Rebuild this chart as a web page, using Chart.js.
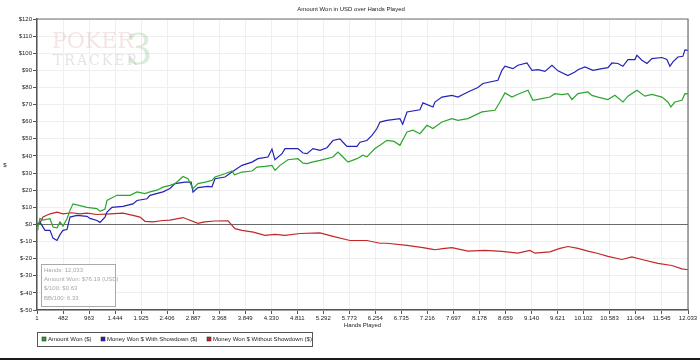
<!DOCTYPE html>
<html>
<head>
<meta charset="utf-8">
<script src="https://cdn.jsdelivr.net/npm/chart.js@4.4.0/dist/chart.umd.min.js"></script>
<style>
  html, body { margin: 0; padding: 0; background: #fff; }
</style>
</head>
<body>
<canvas id="myChart" width="700" height="360"></canvas>
<script>
// x axis tick labels (hands played)
var handTicks = [1, 482, 963, 1444, 1925, 2406, 2887, 3368, 3849, 4330, 4811, 5292, 5773,
  6254, 6735, 7216, 7697, 8178, 8659, 9140, 9621, 10102, 10583, 11064, 11545, 12033];

// Amount Won ($)
var wonHands = [1,19,56,112,241,297,371,426,481,555,611,666,796,925,1110,1165,1258,1295,1350,1479,
  1720,1849,1997,2089,2219,2329,2459,2551,2699,2791,2884,2976,3106,3235,3290,3475,3605,3650,3789,3974,
  4067,4214,4344,4399,4492,4639,4824,4917,4991,5102,5231,5360,5471,5563,5656,5748,5915,6026,6099,6247,
  6340,6469,6600,6709,6839,6950,7079,7208,7319,7356,7485,7670,7781,7966,8224,8465,8557,8650,8779,8890,
  9075,9167,9334,9481,9574,9700,9814,9888,9999,10183,10257,10368,10553,10682,10830,10923,11089,11237,11366,11551,
  11662,11717,11791,11921,11976,12033];
var wonValues = [0,-1.5,3.5,2.5,3.3,-1.5,-2,1.4,-1,3.3,8.2,12,11,10,9.2,7.6,9,14,15,17,
  17,19,18,19,20,21.8,22.8,23.8,28,26.7,20.9,23.8,24.7,25.7,27.7,29.6,31.2,29,30.6,31.2,
  33.5,33.9,34.5,31.6,34.5,37.8,38.4,35.8,35.5,36.5,37.4,38.4,39.4,42.3,39.4,36.4,38.4,40.4,39.5,44.3,
  46.2,49.1,48.5,46.2,54,55,53,57.9,56,56.9,59.8,61.8,60.8,61.8,65.7,66.7,71.5,76.8,74.4,76,
  78.4,72.5,73.5,74.4,76.4,75.8,76.4,73,76.4,77.4,75.4,74.4,72.9,75.4,71.5,74.9,78.4,74.9,76,74.4,
  71.5,68.6,71.5,72.5,76.4,76.2];

// Money Won $ With Showdown ($)
var sdHands = [1,56,149,241,297,371,426,481,555,611,740,925,980,1110,1165,1258,1295,1387,1590,1775,
  1849,2034,2089,2329,2459,2551,2736,2850,2884,2976,3161,3235,3290,3475,3605,3789,3974,4085,4270,4344,
  4399,4529,4584,4824,4917,4991,5102,5231,5360,5471,5600,5656,5730,5915,5970,6099,6192,6284,6340,6469,
  6709,6760,6839,7079,7134,7319,7356,7485,7670,7781,7966,8150,8243,8520,8594,8650,8797,8890,9056,9149,
  9260,9389,9519,9629,9814,9943,9999,10128,10276,10442,10553,10627,10738,10830,10923,11052,11089,11181,11274,11366,
  11551,11643,11699,11754,11847,11939,11976,12033];
var sdValues = [0,1.3,-3.5,-3.5,-8,-9.4,-6,-3.5,-3,4.3,5.3,4.7,3.5,2.3,1.2,4.3,7.2,10,10.5,12,
  14,15,17,19,21,23.8,24.7,24.7,18.9,21.5,22.2,22,26.7,27.7,30.6,34.5,36.4,38.4,39.4,44,
  37.8,41.3,44.3,44.3,41.7,41.3,44.3,43.3,44.8,49,50,48,45.6,45.6,48,49,52,56,59.8,60.8,
  61.8,58.5,65.7,67,71,68.6,71.5,74.4,75.4,74.4,77.4,80,82.3,84.2,90,92.4,91,93,94.3,90,
  90.4,89.4,93,89.7,87,89,90.4,92,90,91,91.6,94.3,94,92.4,96.3,96.3,98.8,95.9,94,96.9,
  97.5,96.3,92.4,95,97.8,98.2,102,101.7];

// Money Won $ Without Showdown ($)
var nsdHands = [1,56,112,241,371,481,640,796,925,1110,1350,1590,1775,1904,1997,2145,2329,2459,2699,2976,
  3100,3290,3531,3660,3789,4000,4214,4400,4584,4861,5231,5471,5785,6099,6340,6469,6839,7134,7319,7356,
  7500,7670,7966,8280,8594,8890,9112,9204,9481,9666,9814,9999,10183,10368,10553,10812,10997,11181,11477,11736,
  11921,12033];
var nsdValues = [0,1,4.3,6.2,7.2,6.2,6.8,6.2,6.6,5.8,6.2,6.6,5.3,4.3,1.8,1.5,2.3,2.5,4,0.6,
  1.5,2,2.1,-2.5,-3.5,-4.5,-6.4,-5.8,-6.4,-5.3,-5,-7,-9.4,-9.4,-11,-11,-12.3,-13.6,-14.6,-14.8,
  -14.2,-13.6,-15.6,-15.2,-15.8,-16.8,-15.2,-16.8,-16,-14,-12.9,-14,-15.6,-17,-18.7,-20.5,-19,-20.5,-22.8,-24,
  -26,-26.5];

var seriesNames = ["Amount Won ($)", "Money Won $ With Showdown ($)", "Money Won $ Without Showdown ($)"];
var statLines = ["Hands: 12,033", "Amount Won: $76.19 (USD)", "$/100: $0.63", "BB/100: 6.33"];

var colors = ["#2ca52c", "#2323b5", "#c22828"];
var FONT = "'Liberation Sans', Arial, sans-serif";

function toPoints(hands, values) {
  return hands.map(function (h, i) { return { x: h, y: values[i] }; });
}

// 自定义绘制：水印、边框、标题、统计框、图例
var extras = {
  id: "extras",
  beforeDatasetsDraw: function (chart) {
    var ctx = chart.ctx;
    ctx.save();
    ctx.textBaseline = "alphabetic";
    ctx.textAlign = "left";
    ctx.font = "22px 'DejaVu Serif', serif";
    ctx.fillStyle = "rgba(200, 110, 110, 0.18)";
    ctx.fillText("POKER", 52, 48);
    ctx.font = "14px 'DejaVu Serif', serif";
    ctx.fillStyle = "rgba(110, 125, 110, 0.20)";
    if ("letterSpacing" in ctx) ctx.letterSpacing = "2px";
    ctx.fillText("TRACKER", 53, 65);
    if ("letterSpacing" in ctx) ctx.letterSpacing = "0px";
    ctx.font = "42px 'DejaVu Serif', serif";
    ctx.fillStyle = "rgba(90, 170, 90, 0.22)";
    ctx.fillText("3", 126, 64);
    ctx.restore();
  },
  afterDraw: function (chart) {
    var ctx = chart.ctx, a = chart.chartArea;
    ctx.save();
    // plot frame top and right
    ctx.strokeStyle = "#6f6f6f";
    ctx.lineWidth = 1.2;
    ctx.beginPath();
    ctx.moveTo(a.left, a.top);
    ctx.lineTo(a.right, a.top);
    ctx.lineTo(a.right, a.bottom);
    ctx.stroke();

    // titles
    ctx.fillStyle = "#222";
    ctx.font = "6px " + FONT;
    ctx.textAlign = "center";
    ctx.textBaseline = "middle";
    ctx.fillText("Amount Won in USD over Hands Played", 351, 9);
    ctx.fillText("Hands Played", (a.left + a.right) / 2, 325);
    ctx.fillText("$", 5, 165);

    // stats box
    ctx.fillStyle = "rgba(255,255,255,0.9)";
    ctx.fillRect(41, 264, 75, 43);
    ctx.strokeStyle = "#aaaaaa";
    ctx.lineWidth = 1;
    ctx.strokeRect(41.5, 264.5, 74, 42);
    ctx.fillStyle = "#a8a8a8";
    ctx.textAlign = "left";
    statLines.forEach(function (t, i) {
      ctx.fillText(t, 44, 270 + i * 9.4);
    });

    // legend box
    ctx.strokeStyle = "#555";
    ctx.strokeRect(37.5, 332.5, 275, 14);
    var lx = [42, 101, 207];
    seriesNames.forEach(function (name, i) {
      ctx.fillStyle = colors[i];
      ctx.fillRect(lx[i], 337, 4, 4);
      ctx.strokeStyle = "#333";
      ctx.lineWidth = 0.6;
      ctx.strokeRect(lx[i], 337, 4, 4);
      ctx.fillStyle = "#222";
      ctx.fillText(name, lx[i] + 6, 339.5);
    });

    // outer bottom edge
    ctx.fillStyle = "#1a1a1a";
    ctx.fillRect(0, 358, 700, 2);
    ctx.restore();
  }
};

var canvas = document.getElementById("myChart");
var myChart = new Chart(canvas, {
  type: "line",
  data: {
    datasets: [
      { label: seriesNames[0], data: toPoints(wonHands, wonValues), borderColor: colors[0] },
      { label: seriesNames[1], data: toPoints(sdHands, sdValues), borderColor: colors[1] },
      { label: seriesNames[2], data: toPoints(nsdHands, nsdValues), borderColor: colors[2] }
    ]
  },
  options: {
    responsive: false,
    animation: false,
    devicePixelRatio: 1,
    elements: {
      point: { radius: 0 },
      line: { borderWidth: 1.2, tension: 0 }
    },
    layout: { padding: { left: 0, top: 19, right: 12, bottom: 40 } },
    plugins: {
      legend: { display: false },
      title: { display: false },
      tooltip: { enabled: false }
    },
    scales: {
      x: {
        type: "linear",
        min: 1,
        max: 12033,
        afterBuildTicks: function (scale) {
          scale.ticks = handTicks.map(function (v) { return { value: v }; });
        },
        afterFit: function (scale) { scale.height = 10; },
        ticks: {
          autoSkip: false,
          maxRotation: 0,
          padding: 1,
          color: "#222",
          font: { family: FONT, size: 6 },
          callback: function (v) { return v.toLocaleString("en-US"); }
        },
        grid: { color: "#efefef", tickLength: 4, tickColor: "#555" },
        border: { color: "#555", width: 1.5 }
      },
      y: {
        min: -50,
        max: 120,
        afterFit: function (scale) { scale.width = 37; },
        ticks: {
          stepSize: 10,
          padding: 1,
          color: "#222",
          font: { family: FONT, size: 6 },
          callback: function (v) { return "$" + v; }
        },
        grid: {
          color: function (c) { return c.tick && c.tick.value === 0 ? "#6a6a6a" : "#efefef"; },
          tickLength: 4,
          tickColor: "#555"
        },
        border: { color: "#555", width: 1.5 }
      }
    }
  },
  plugins: [extras]
});
</script>
</body>
</html>
